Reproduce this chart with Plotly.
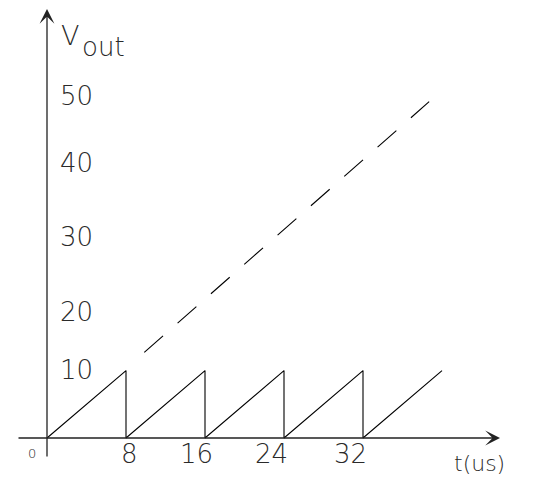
import plotly.graph_objects as go

# ---- data ----
saw_t = [0, 8, 8, 16, 16, 24, 24, 32, 32, 40]
saw_v = [0, 10, 0, 10, 0, 10, 0, 10, 0, 10]
ramp_t = [9.85, 38.7]
ramp_v = [12.7, 49.9]
x_tick_labels = ["8", "16", "24", "32"]
y_tick_labels = ["10", "20", "30", "40", "50"]
origin_label = "0"
y_title = ["V", "out"]
x_title = "t(us)"

# ---- layout helpers (page pixel -> data); page body has an 8px margin ----
W, H = 555, 485
OFF = 8.0
X0, SX = 47.0, 9.875
Y0, SY = 438.0, 6.74


def X(px):
    return (px - X0) / SX


def Y(py):
    return (Y0 - py) / SY


FONT = "DejaVu Sans"
TXT = "#2a2a2a"
WT = 200

fig = go.Figure()
fig.add_trace(go.Scatter(x=saw_t, y=saw_v, mode="lines",
                         line=dict(color="black", width=1.1), hoverinfo="skip"))
fig.add_trace(go.Scatter(x=ramp_t, y=ramp_v, mode="lines",
                         line=dict(color="black", width=1.1, dash="25px,19.4px"),
                         hoverinfo="skip"))

ann = []
# axes with arrows
ann.append(dict(x=X(500), y=0, ax=X(17), ay=0, xref="x", yref="y", axref="x", ayref="y",
                text="", showarrow=True, arrowhead=3, arrowsize=1.9, arrowwidth=1.3,
                arrowcolor="#222"))
ann.append(dict(x=0, y=Y(9), ax=0, ay=Y(458), xref="x", yref="y", axref="x", ayref="y",
                text="", showarrow=True, arrowhead=3, arrowsize=1.9, arrowwidth=1.3,
                arrowcolor="#222"))

big = dict(family=FONT, size=26, color=TXT, weight=WT)

# x tick labels
x_lab_px = [129, 196, 271, 350]
for lab, px in zip(x_tick_labels, x_lab_px):
    ann.append(dict(x=X(px), y=Y(454), text=lab, showarrow=False, font=big,
                    xanchor="center", yanchor="middle"))
# y tick labels
y_lab_px = [370, 312, 237, 163, 96]
for lab, py in zip(y_tick_labels, y_lab_px):
    ann.append(dict(x=X(58), y=Y(py), text=lab, showarrow=False, font=big,
                    xanchor="left", yanchor="middle"))
# origin
ann.append(dict(x=X(32), y=Y(453), text=origin_label, showarrow=False,
                font=dict(family=FONT, size=13, color=TXT, weight=WT),
                xanchor="center", yanchor="middle"))
# axis titles
ann.append(dict(x=X(59), y=Y(35), text=y_title[0], showarrow=False,
                font=dict(family=FONT, size=27, color=TXT, weight=WT),
                xanchor="left", yanchor="middle"))
ann.append(dict(x=X(80), y=Y(47), text=y_title[1], showarrow=False,
                font=dict(family=FONT, size=26, color=TXT, weight=WT),
                xanchor="left", yanchor="middle"))
ann.append(dict(x=X(452), y=Y(463), text=x_title, showarrow=False,
                font=dict(family=FONT, size=22, color=TXT, weight=WT),
                xanchor="left", yanchor="middle"))

fig.update_layout(
    width=W - 2 * OFF, height=H - 2 * OFF,
    margin=dict(l=0, r=0, t=0, b=0),
    paper_bgcolor="white", plot_bgcolor="white",
    showlegend=False,
    xaxis=dict(range=[X(OFF), X(W - OFF)], visible=False, fixedrange=True),
    yaxis=dict(range=[Y(H - OFF), Y(OFF)], visible=False, fixedrange=True),
    annotations=ann,
)

fig.write_html("out.html")
